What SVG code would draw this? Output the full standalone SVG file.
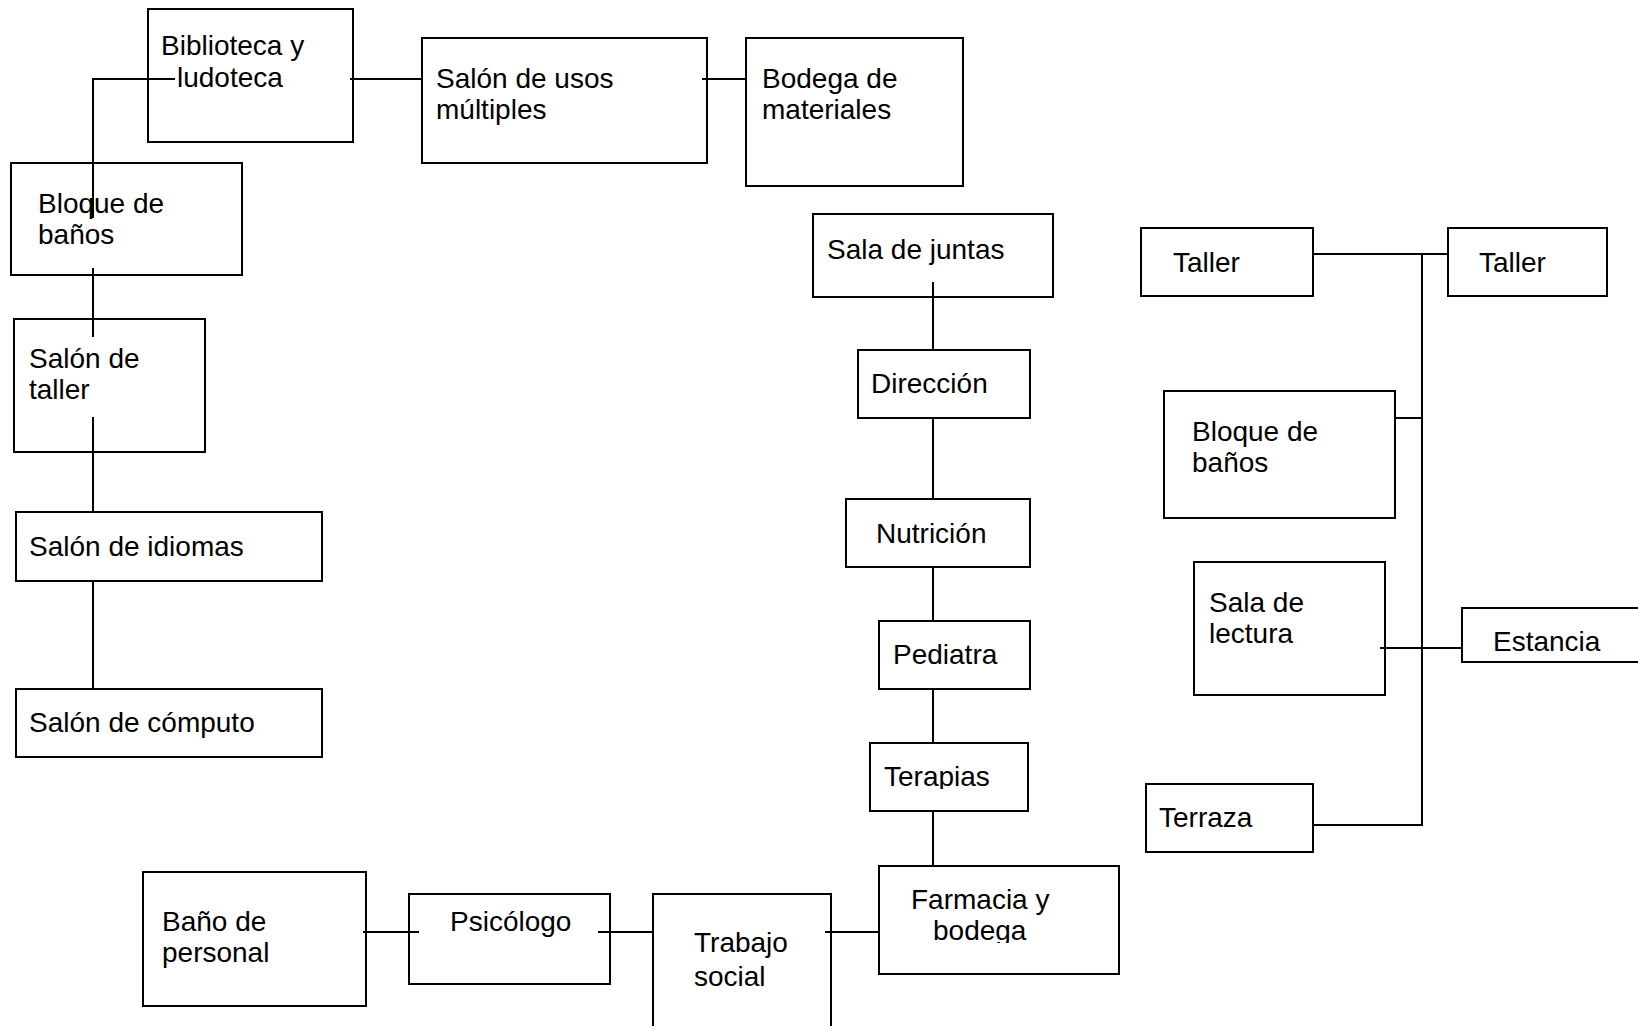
<svg xmlns="http://www.w3.org/2000/svg" width="1638" height="1026" viewBox="0 0 1638 1026">
<style>
.box{fill:#fff;stroke:#000;stroke-width:2}
.lbl{font-family:"Liberation Sans",Arial,sans-serif;font-size:28px;fill:#000}
.con{fill:none;stroke:#000;stroke-width:2}
</style>
<defs>
<clipPath id="clipTer"><rect x="870" y="743" width="158" height="46"/></clipPath>
<clipPath id="clipFar"><rect x="879" y="866" width="240" height="77"/></clipPath>
</defs>
<rect width="1638" height="1026" fill="#fff"/>
<g id="biblioteca"><rect class="box" x="148" y="9" width="205" height="133"/><text class="lbl" x="161" y="55">Biblioteca y</text><text class="lbl" x="177" y="87">ludoteca</text></g>
<g id="usos"><rect class="box" x="422" y="38" width="285" height="125"/><text class="lbl" x="436" y="88">Salón de usos</text><text class="lbl" x="436" y="119">múltiples</text></g>
<g id="bodega"><rect class="box" x="746" y="38" width="217" height="148"/><text class="lbl" x="762" y="88">Bodega de</text><text class="lbl" x="762" y="119">materiales</text></g>
<g id="banosL"><rect class="box" x="11" y="163" width="231" height="112"/><text class="lbl" x="38" y="213">Bloque de</text><text class="lbl" x="38" y="244">baños</text></g>
<g id="tallerL"><rect class="box" x="14" y="319" width="191" height="133"/><text class="lbl" x="29" y="368">Salón de</text><text class="lbl" x="29" y="399">taller</text></g>
<g id="idiomas"><rect class="box" x="16" y="512" width="306" height="69"/><text class="lbl" x="29" y="556">Salón de idiomas</text></g>
<g id="computo"><rect class="box" x="16" y="689" width="306" height="68"/><text class="lbl" x="29" y="732">Salón de cómputo</text></g>
<g id="juntas"><rect class="box" x="813" y="214" width="240" height="83"/><text class="lbl" x="827" y="259">Sala de juntas</text></g>
<g id="direccion"><rect class="box" x="858" y="350" width="172" height="68"/><text class="lbl" x="871" y="393">Dirección</text></g>
<g id="nutricion"><rect class="box" x="846" y="499" width="184" height="68"/><text class="lbl" x="876" y="543">Nutrición</text></g>
<g id="pediatra"><rect class="box" x="879" y="621" width="151" height="68"/><text class="lbl" x="893" y="664">Pediatra</text></g>
<g id="terapias"><rect class="box" x="870" y="743" width="158" height="68"/><text class="lbl" x="884" y="786" clip-path="url(#clipTer)">Terapias</text></g>
<g id="farmacia"><rect class="box" x="879" y="866" width="240" height="108"/><text class="lbl" x="911" y="909">Farmacia y</text><text class="lbl" x="933" y="940" clip-path="url(#clipFar)">bodega</text></g>
<g id="trabajo"><rect class="box" x="653" y="894" width="178" height="200"/><text class="lbl" x="694" y="952">Trabajo</text><text class="lbl" x="694" y="986">social</text></g>
<g id="psicologo"><rect class="box" x="409" y="894" width="201" height="90"/><text class="lbl" x="450" y="931">Psicólogo</text></g>
<g id="bano"><rect class="box" x="143" y="872" width="223" height="134"/><text class="lbl" x="162" y="931">Baño de</text><text class="lbl" x="162" y="962">personal</text></g>
<g id="taller1"><rect class="box" x="1141" y="228" width="172" height="68"/><text class="lbl" x="1173" y="272">Taller</text></g>
<g id="taller2"><rect class="box" x="1448" y="228" width="159" height="68"/><text class="lbl" x="1479" y="272">Taller</text></g>
<g id="banosR"><rect class="box" x="1164" y="391" width="231" height="127"/><text class="lbl" x="1192" y="441">Bloque de</text><text class="lbl" x="1192" y="472">baños</text></g>
<g id="lectura"><rect class="box" x="1194" y="562" width="191" height="133"/><text class="lbl" x="1209" y="612">Sala de</text><text class="lbl" x="1209" y="643">lectura</text></g>
<g id="estancia"><rect class="box" x="1462" y="608" width="200" height="54"/><text class="lbl" x="1493" y="651">Estancia</text></g>
<g id="terraza"><rect class="box" x="1146" y="784" width="167" height="68"/><text class="lbl" x="1159" y="827">Terraza</text></g>
<g id="connectors">
<path class="con" d="M350,79 H422"/>
<path class="con" d="M702,79 H746"/>
<path class="con" d="M175,79 H93 V218"/>
<path class="con" d="M93,268 V337"/>
<path class="con" d="M93,417 V512"/>
<path class="con" d="M93,581 V689"/>
<path class="con" d="M933,282 V350"/>
<path class="con" d="M933,418 V499"/>
<path class="con" d="M933,567 V621"/>
<path class="con" d="M933,689 V743"/>
<path class="con" d="M933,811 V866"/>
<path class="con" d="M363,932 H419"/>
<path class="con" d="M598,932 H653"/>
<path class="con" d="M825,932 H879"/>
<path class="con" d="M1313,254 H1448"/>
<path class="con" d="M1422,254 V825 H1313"/>
<path class="con" d="M1395,418 H1422"/>
<path class="con" d="M1380,648 H1462"/>
</g>
</svg>
